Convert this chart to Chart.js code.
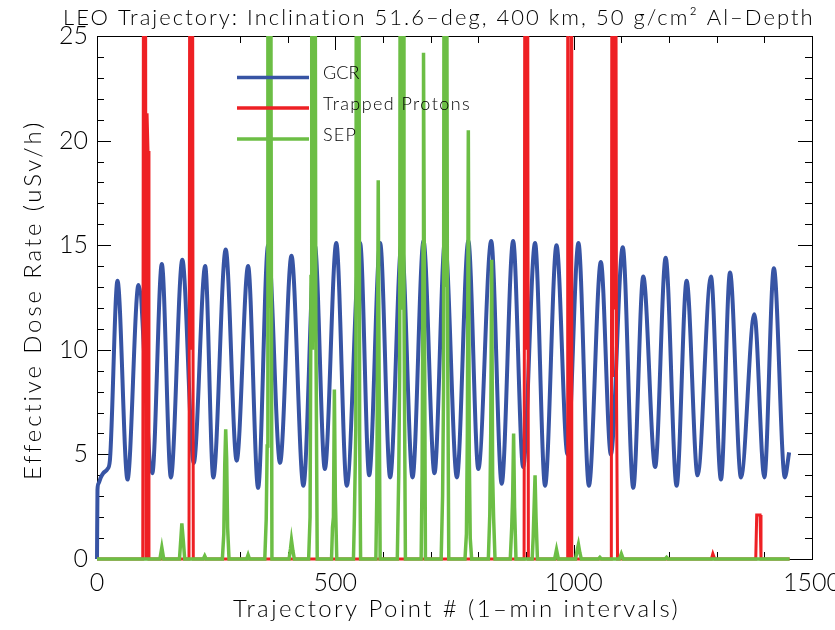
<!DOCTYPE html>
<html>
<head>
<meta charset="utf-8">
<title>LEO Trajectory dose rate</title>
<script src="https://cdn.jsdelivr.net/npm/chart.js@4.4.1/dist/chart.umd.min.js"></script>
<style>
  html, body { margin: 0; padding: 0; background: #fff; }
  #wrap { width: 835px; height: 630px; }
</style>
</head>
<body>
<div id="wrap"><canvas id="doseChart" width="835" height="630"></canvas></div>
<script>
// tick labels
const xTicks = [0, 500, 1000, 1500];
const yTicks = [0, 5, 10, 15, 20, 25];

// GCR - turning points of the orbit oscillation (trajectory point, uSv/h)
const gcrX = [0, 1, 3, 8, 13, 22, 27, 43, 64, 87, 116, 136, 155, 179, 203, 227, 244,
  270, 293, 317, 338, 359, 384, 408, 433, 457, 478, 502, 524, 552, 571, 594, 615, 639, 662,
  685, 708, 730, 755, 779, 800, 827, 849, 873, 894, 919, 940, 964, 987, 1010, 1032, 1057,
  1078, 1103, 1125, 1146, 1171, 1193, 1216, 1237, 1260, 1288, 1309, 1328, 1351, 1379, 1400,
  1420, 1443, 1452];
const gcrY = [0, 3.3, 3.6, 3.9, 4.1, 4.3, 4.7, 13.3, 3.8, 13.1, 4.1, 14.1, 3.9, 14.3, 4.6, 14.0, 3.9,
  14.8, 4.7, 14.0, 3.4, 15.0, 4.6, 14.5, 3.5, 15.0, 4.3, 15.1, 3.5, 15.1, 4.0, 15.1, 3.9, 15.1, 3.9,
  15.2, 4.1, 15.2, 3.9, 15.2, 4.3, 15.2, 3.6, 15.2, 4.4, 15.1, 3.5, 15.0, 5.0, 15.1, 3.5, 14.2,
  5.0, 14.9, 3.4, 13.5, 4.4, 14.4, 3.5, 13.3, 4.0, 13.5, 3.8, 13.7, 3.9, 11.7, 3.9,
  13.9, 3.9, 5.1];

// trapped protons - SAA passes, 40 = off scale
const trapX = [0, 96, 98, 100, 101.5, 103, 105, 107, 109,
  193, 195, 196.5, 198, 200, 202,
  896, 898, 899.5, 901, 903, 905,
  986.5, 987.5, 988.5, 994, 995, 996,
  1079, 1080.5, 1082, 1083.5, 1085, 1086.5, 1088, 1090, 1092,
  1289, 1292, 1296, 1382, 1384, 1391, 1393, 1453];
const trapY = [0, 0, 40, 12, 40, 0, 21.3, 19.5, 0,
  0, 40, 10, 40, 40, 0,
  0, 40, 10, 40, 40, 0,
  0, 40, 0, 0, 40, 0,
  0, 40, 8.7, 40, 12, 40, 40, 7.6, 0,
  0, 0.25, 0, 0, 2.1, 2.1, 0, 0];

// SEP spikes, 40 = off scale
const sepX = [0, 132, 136, 140, 173, 176, 178, 181, 184, 223, 226, 229,
  263, 266, 268, 270, 272, 274, 277, 314, 317, 320,
  352, 355, 357, 358.5, 360, 361.5, 363, 365, 367, 403, 406, 408, 411, 414,
  444, 447, 449, 450.5, 452, 453.5, 455, 457, 459, 462, 492, 494, 496, 498, 500, 503,
  538, 540, 543, 544.5, 546, 547.5, 549, 551, 553, 585, 587, 589, 590, 592, 594,
  630, 633, 635, 636.5, 638, 639.5, 642, 644, 647, 680, 682, 684, 685, 687, 689,
  722, 725, 727, 728.5, 730, 731.5, 733, 735, 738, 772, 775, 777, 779, 781, 783, 786,
  821, 824, 826, 828, 830, 832, 835, 867, 870, 872, 874, 876, 879,
  913, 915, 917, 919, 921, 924, 960, 964, 968, 1004, 1008, 1010, 1013, 1016,
  1052, 1055, 1058, 1096, 1100, 1104, 1192, 1195, 1198, 1453];
const sepY = [0, 0, 0.55, 0, 0, 1.0, 1.7, 0.9, 0, 0, 0.15, 0,
  0, 1.2, 4.5, 6.2, 4.8, 1.5, 0, 0, 0.2, 0,
  0, 1.9, 5.4, 40, 12, 40, 40, 23.7, 0, 0, 0.5, 0.9, 0.4, 0,
  0, 2.0, 13.5, 40, 10, 40, 40, 40, 12.0, 0, 0, 1.5, 2.0, 8.1, 3.0, 0,
  0, 2.0, 6.3, 40, 15.4, 40, 40, 6.0, 0, 0, 3.0, 12.0, 18.1, 8.0, 0,
  0, 4.0, 9, 40, 12, 40, 40, 12.1, 0, 0, 4.0, 15.0, 24.2, 12.0, 0,
  0, 3.0, 8, 40, 13, 40, 40, 13.0, 0, 0, 1.2, 6.0, 20.5, 5.0, 1.0, 0,
  0, 2.1, 6.0, 14.3, 4.0, 2.0, 0, 0, 1.5, 3.0, 6.0, 2.5, 0,
  0, 1.0, 2.5, 4.0, 2.0, 0, 0, 0.45, 0, 0, 0.5, 0.7, 0.3, 0,
  0, 0.08, 0, 0, 0.25, 0, 0, 0.08, 0, 0];

const FONT = 'Lato, "DejaVu Sans", sans-serif';
const BLUE = "#3754a4";
const RED = "#ee2024";
const GREEN = "#6cbe45";

function toPoints(xs, ys) {
    return xs.map((x, i) => ({ x: x, y: ys[i] }));
}

// draws text spread out to a given width (stroke font in the original is widely spaced)
function spreadText(ctx, text, x, y, width) {
    ctx.letterSpacing = "0px";
    const w = ctx.measureText(text).width;
    const gap = Math.max(0, (width - w) / text.length);
    ctx.letterSpacing = gap.toFixed(2) + "px";
    ctx.fillText(text, x, y);
    ctx.letterSpacing = "0px";
}

// box + inward ticks on all four sides (IDL style)
const frameTicks = {
    id: "frameTicks",
    beforeDatasetsDraw(chart) {
        const { ctx, chartArea: a, scales: { x, y } } = chart;
        ctx.save();
        ctx.strokeStyle = "#000";
        ctx.lineWidth = 1;
        ctx.strokeRect(a.left + 0.5, a.top + 0.5, a.right - a.left, a.bottom - a.top);
        ctx.beginPath();
        for (let v = x.min; v <= x.max; v += 100) {
            const px = Math.round(x.getPixelForValue(v)) + 0.5;
            const len = v % 500 === 0 ? 14 : 7;
            ctx.moveTo(px, a.bottom); ctx.lineTo(px, a.bottom - len);
            ctx.moveTo(px, a.top); ctx.lineTo(px, a.top + len);
        }
        for (let v = y.min; v <= y.max; v += 1) {
            const py = Math.round(y.getPixelForValue(v)) + 0.5;
            const len = v % 5 === 0 ? 14 : 7;
            ctx.moveTo(a.left, py); ctx.lineTo(a.left + len, py);
            ctx.moveTo(a.right, py); ctx.lineTo(a.right - len, py);
        }
        ctx.stroke();
        ctx.restore();
    }
};

// title, axis titles and the in-plot legend
const texts = {
    id: "texts",
    afterDraw(chart) {
        const ctx = chart.ctx;
        ctx.save();
        ctx.fillStyle = "#000";
        ctx.textBaseline = "alphabetic";
        ctx.textAlign = "left";

        ctx.font = "300 22px " + FONT;
        spreadText(ctx, "LEO Trajectory: Inclination 51.6\u2013deg, 400 km, 50 g/cm\u00b2 Al\u2013Depth", 63, 25, 752);

        ctx.font = "300 24px " + FONT;
        spreadText(ctx, "Trajectory Point # (1\u2013min intervals)", 233, 617, 447);

        ctx.save();
        ctx.translate(41, 480);
        ctx.rotate(-Math.PI / 2);
        spreadText(ctx, "Effective Dose Rate (uSv/h)", 0, 0, 360);
        ctx.restore();

        const items = [["GCR", BLUE, 77.5, 35], ["Trapped Protons", RED, 108, 148], ["SEP", GREEN, 139, 34]];
        ctx.font = "300 18px " + FONT;
        items.forEach(([name, color, ly, w]) => {
            ctx.strokeStyle = color;
            ctx.lineWidth = 3.5;
            ctx.beginPath();
            ctx.moveTo(237, ly);
            ctx.lineTo(309, ly);
            ctx.stroke();
            spreadText(ctx, name, 323, ly + 1.5, w);
        });
        ctx.restore();
    }
};

let chartInstance = null;

function loadChart() {
    const ctx = document.getElementById("doseChart").getContext("2d");

    if (chartInstance) {
        chartInstance.destroy();
    }

    Chart.defaults.font.family = FONT;
    Chart.defaults.color = "#000";

    const clipBox = { left: 5, top: 0, right: 0, bottom: 5 };
    const tickFont = { size: 25, weight: 300 };

    chartInstance = new Chart(ctx, {
        type: "line",
        data: {
            datasets: [
                {
                    label: "GCR",
                    data: toPoints(gcrX, gcrY),
                    borderColor: BLUE,
                    borderWidth: 4,
                    cubicInterpolationMode: "monotone",
                    pointRadius: 0,
                    clip: clipBox,
                    order: 3
                },
                {
                    label: "Trapped Protons",
                    data: toPoints(trapX, trapY),
                    borderColor: RED,
                    borderWidth: 3,
                    tension: 0,
                    pointRadius: 0,
                    clip: clipBox,
                    order: 2
                },
                {
                    label: "SEP",
                    data: toPoints(sepX, sepY),
                    borderColor: GREEN,
                    borderWidth: 3.5,
                    tension: 0,
                    pointRadius: 0,
                    clip: clipBox,
                    order: 1
                }
            ]
        },
        options: {
            responsive: false,
            animation: false,
            layout: { padding: { left: 0, right: 23, top: 36, bottom: 0 } },
            plugins: {
                legend: { display: false },
                tooltip: { enabled: false }
            },
            scales: {
                x: {
                    type: "linear",
                    min: xTicks[0],
                    max: xTicks[xTicks.length - 1],
                    grid: { display: false, drawTicks: false },
                    border: { display: false },
                    afterBuildTicks: (scale) => { scale.ticks = xTicks.map(v => ({ value: v })); },
                    ticks: { font: tickFont, padding: 9, maxRotation: 0, callback: (v) => String(v) },
                    afterFit: (scale) => { scale.height = 71; scale.paddingLeft = 0; scale.paddingRight = 0; }
                },
                y: {
                    type: "linear",
                    min: yTicks[0],
                    max: yTicks[yTicks.length - 1],
                    grid: { display: false, drawTicks: false },
                    border: { display: false },
                    afterBuildTicks: (scale) => { scale.ticks = yTicks.map(v => ({ value: v })); },
                    ticks: { font: tickFont, padding: 9, callback: (v) => String(v) },
                    afterFit: (scale) => { scale.width = 97; }
                }
            }
        },
        plugins: [frameTicks, texts]
    });
}

window.onload = function () {
    loadChart();
};
</script>
</body>
</html>
